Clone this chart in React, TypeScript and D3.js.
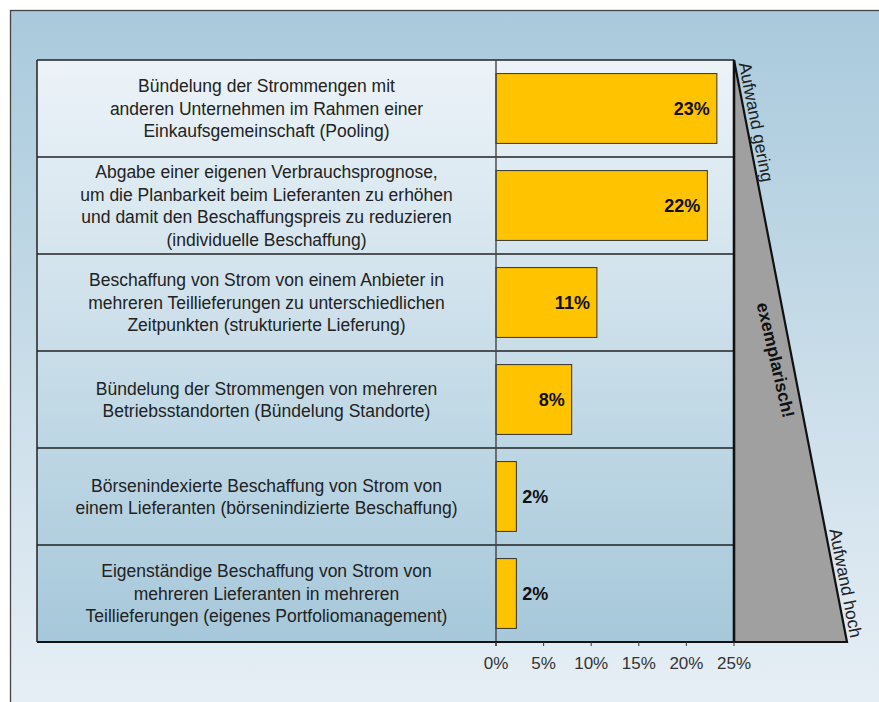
import React from "react";
import * as d3 from "d3";

const categories: string[][] = [
  ["Bündelung der Strommengen mit", "anderen Unternehmen im Rahmen einer", "Einkaufsgemeinschaft (Pooling)"],
  ["Abgabe einer eigenen Verbrauchsprognose,", "um die Planbarkeit beim Lieferanten zu erhöhen", "und damit den Beschaffungspreis zu reduzieren", "(individuelle Beschaffung)"],
  ["Beschaffung von Strom von einem Anbieter in", "mehreren Teillieferungen zu unterschiedlichen", "Zeitpunkten (strukturierte Lieferung)"],
  ["Bündelung der Strommengen von mehreren", "Betriebsstandorten (Bündelung Standorte)"],
  ["Börsenindexierte Beschaffung von Strom von", "einem Lieferanten (börsenindizierte Beschaffung)"],
  ["Eigenständige Beschaffung von Strom von", "mehreren Lieferanten in mehreren", "Teillieferungen (eigenes Portfoliomanagement)"],
];
const values: number[] = [23.2, 22.2, 10.6, 7.95, 2.14, 2.14];
const valueLabels: string[] = ["23%", "22%", "11%", "8%", "2%", "2%"];
const ticks: number[] = [0, 5, 10, 15, 20, 25];
const tickLabels: string[] = ["0%", "5%", "10%", "15%", "20%", "25%"];
const sideTop = "Aufwand gering";
const sideBottom = "Aufwand hoch";
const sideMiddle = "exemplarisch!";

const W = 879, H = 702;
const tableLeft = 37, zeroX = 496, right = 734, top = 60, bottom = 642, triBottomX = 847;
const FONT = "'Liberation Sans', Arial, Helvetica, sans-serif";

export default function App() {
  const x = d3.scaleLinear().domain([0, 25]).range([zeroX, right]);
  const y = d3.scaleBand<number>().domain(d3.range(categories.length)).range([top, bottom]).padding(0);
  const bw = y.bandwidth();
  const barH = bw * 0.72;
  const ang = (Math.atan2(bottom - top, triBottomX - right) * 180) / Math.PI;
  const diagX = (yy: number) => right + ((triBottomX - right) * (yy - top)) / (bottom - top);
  const lineH = 22.6;
  const tri = d3.line()([[right, top], [triBottomX, bottom], [right, bottom]]) + "Z";

  return (
    <div style={{ position: "absolute", left: 0, top: 0 }}>
      <svg width={W} height={H} style={{ display: "block" }} fontFamily={FONT}>
        <defs>
          <linearGradient id="bg" x1="0" y1="0" x2="0" y2="1">
            <stop offset="0" stopColor="#a9cadc" />
            <stop offset="1" stopColor="#e9f0f6" />
          </linearGradient>
          <linearGradient id="tbl" x1="0" y1="0" x2="0" y2="1">
            <stop offset="0" stopColor="#ecf3f8" />
            <stop offset="1" stopColor="#a6c8da" />
          </linearGradient>
        </defs>
        <rect x={0} y={0} width={W} height={H} fill="#fff" />
        <rect x={10.5} y={10.5} width={W + 20} height={H + 20} fill="url(#bg)" stroke="#444" strokeWidth={1.3} />
        <rect x={tableLeft} y={top} width={right - tableLeft} height={bottom - top} fill="url(#tbl)" />
        {/* row separators */}
        {categories.map((_, i) => (
          <line key={"r" + i} x1={tableLeft} x2={right} y1={y(i)!} y2={y(i)!} stroke="#222" strokeWidth={1.5} />
        ))}
        <line x1={tableLeft} x2={tableLeft} y1={top} y2={bottom} stroke="#222" strokeWidth={1.5} />
        {/* row labels */}
        {categories.map((lines, i) => {
          const cy = y(i)! + bw / 2;
          const start = cy - ((lines.length - 1) * lineH) / 2;
          return (
            <text key={"t" + i} x={(tableLeft + zeroX) / 2} textAnchor="middle" fontSize={17.5} fill="#222">
              {lines.map((l, j) => (
                <tspan key={j} x={(tableLeft + zeroX) / 2} y={start + j * lineH} dy="0.36em">{l}</tspan>
              ))}
            </text>
          );
        })}
        {/* bars */}
        {values.map((v, i) => {
          const cy = y(i)! + bw / 2;
          return (
            <rect key={"b" + i} x={x(0)} y={cy - barH / 2} width={x(v) - x(0)} height={barH} fill="#ffc300" stroke="#333" strokeWidth={1} />
          );
        })}
        {values.map((v, i) => {
          const cy = y(i)! + bw / 2;
          const inside = v > 5;
          return (
            <text key={"l" + i} x={inside ? x(v) - 7 : x(v) + 6} y={cy} dy="0.36em" textAnchor={inside ? "end" : "start"} fontSize={18} fontWeight="bold" fill="#111">
              {valueLabels[i]}
            </text>
          );
        })}
        {/* zero line */}
        <line x1={zeroX} x2={zeroX} y1={top} y2={bottom + 4} stroke="#444" strokeWidth={1.4} />
        {/* triangle */}
        <path d={tri} fill="#a0a0a0" stroke="#111" strokeWidth={2.2} strokeLinejoin="miter" />
        <line x1={right} x2={right} y1={top} y2={bottom} stroke="#111" strokeWidth={2.4} />
        <line x1={tableLeft} x2={triBottomX} y1={bottom} y2={bottom} stroke="#111" strokeWidth={2.2} />
        {/* axis */}
        {ticks.map((t, i) => (
          <g key={"k" + i} transform={`translate(${x(t)},${bottom})`}>
            <line y1={0} y2={4} stroke="#333" strokeWidth={1} />
            <text y={21} dy="0.36em" textAnchor="middle" fontSize={17} fill="#333">{tickLabels[i]}</text>
          </g>
        ))}
        {/* side labels */}
        <text transform={`translate(${diagX(122) + 10.5},122) rotate(${ang})`} textAnchor="middle" dy="0.36em" fontSize={17.5} fill="#222">{sideTop}</text>
        <text transform={`translate(${diagX(583) + 10.5},583) rotate(${ang})`} textAnchor="middle" dy="0.36em" fontSize={17.5} fill="#222">{sideBottom}</text>
        <text transform={`translate(776,360) rotate(${ang - 2})`} textAnchor="middle" dy="0.36em" fontSize={17.5} fontWeight="bold" fill="#111">{sideMiddle}</text>
      </svg>
    </div>
  );
}
